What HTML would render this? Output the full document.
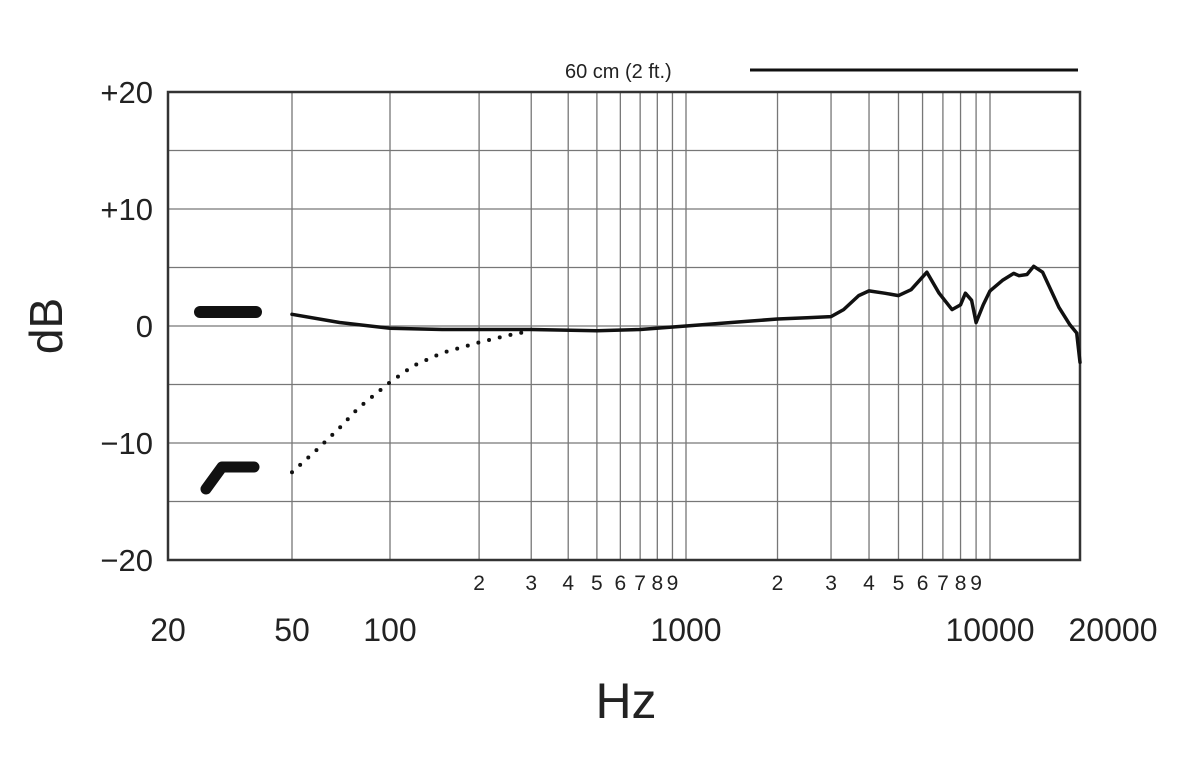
<!DOCTYPE html>
<html><head><meta charset="utf-8"><style>
body{margin:0;background:#fff;}
svg{display:block;font-family:"Liberation Sans",sans-serif;}
</style></head><body>
<svg id="chart" width="1200" height="757" viewBox="0 0 1200 757" xmlns="http://www.w3.org/2000/svg">
<g id="grid"></g>
<g id="series"></g>
<g id="labels"></g>
<text x="565" y="78" font-size="20" fill="#222">60 cm (2 ft.)</text>
<line x1="750" y1="70" x2="1078" y2="70" stroke="#111" stroke-width="3"/>
<line x1="200" y1="312" x2="256" y2="312" stroke="#111" stroke-width="12" stroke-linecap="round"/>
<polyline points="206,489 222,467 254,467" fill="none" stroke="#111" stroke-width="11" stroke-linecap="round" stroke-linejoin="round"/>
<text transform="translate(62,326) rotate(-90)" text-anchor="middle" font-size="46" fill="#222">dB</text>
<text x="626" y="718" text-anchor="middle" font-size="50" fill="#222">Hz</text>
</svg>
<script>
const yTicks=[20,10,0,-10,-20];
const yTickLabels=["+20","+10","0","\u221210","\u221220"];
const xMajorTicks=[20,50,100,1000,10000,20000];
const xMajorLabels=["20","50","100","1000","10000","20000"];
const minorDigits=[2,3,4,5,6,7,8,9];
const flatFreq=[50,70,100,150,200,300,500,700,1000,1500,2000,2500,3000,3300,3700,4000,4500,5000,5500,6200,6800,7500,8000,8300,8700,9000,9500,10000,11000,12000,12500,13300,14000,15000,17000,18500,19500,20000];
const flatDb=[1.0,0.3,-0.2,-0.3,-0.3,-0.3,-0.4,-0.3,0,0.35,0.6,0.7,0.8,1.4,2.6,3.0,2.8,2.6,3.1,4.6,2.8,1.4,1.8,2.8,2.2,0.3,1.8,3.0,3.9,4.5,4.3,4.4,5.1,4.6,1.6,0.1,-0.6,-3.1];
const rollFreq=[50,60,70,80,100,120,150,200,250,300];
const rollDb=[-12.5,-10.5,-8.7,-7.0,-4.8,-3.4,-2.3,-1.4,-0.8,-0.4];
const NS="http://www.w3.org/2000/svg";
const ax=[[20,168],[50,292],[100,390],[1000,686],[10000,990],[20000,1080]];
function xs(f){for(let i=0;i<ax.length-1;i++){const a=ax[i],b=ax[i+1];if(f<=b[0]||i==ax.length-2){return a[1]+(Math.log10(f)-Math.log10(a[0]))/(Math.log10(b[0])-Math.log10(a[0]))*(b[1]-a[1]);}}}
function ys(d){return 326-d*11.7;}
function mk(tag,attrs,parent){const e=document.createElementNS(NS,tag);for(const k in attrs)e.setAttribute(k,attrs[k]);parent.appendChild(e);return e;}
const grid=document.getElementById('grid'),series=document.getElementById('series'),labels=document.getElementById('labels');
for(let d=-20;d<=20;d+=5){const l=mk('line',{x1:168,x2:1080,y1:ys(d),y2:ys(d),stroke:'#777','stroke-width':1.3},grid);

}
const vf=[50,100,200,300,400,500,600,700,800,900,1000,2000,3000,4000,5000,6000,7000,8000,9000,10000];
vf.forEach(f=>{const l=mk('line',{x1:xs(f),x2:xs(f),y1:92,y2:560,stroke:'#777','stroke-width':1.3},grid);

});
const fr=mk('rect',{x:168,y:92,width:912,height:468,fill:'none',stroke:'#333','stroke-width':2.5},grid);


yTicks.forEach((v,i)=>{const t=mk('text',{x:153,y:ys(v)+11,'text-anchor':'end','font-size':31,fill:'#222'},labels);t.textContent=yTickLabels[i];

});
xMajorTicks.forEach((v,i)=>{const t=mk('text',{x:v==20000?1113:xs(v),y:641,'text-anchor':'middle','font-size':32,fill:'#222'},labels);t.textContent=xMajorLabels[i];

});
[100,1000].forEach(base=>{minorDigits.forEach(d=>{const t=mk('text',{x:xs(base*d),y:590,'text-anchor':'middle','font-size':21,fill:'#222'},labels);t.textContent=String(d);

});});
function path(fs,ds){let s='';fs.forEach((f,i)=>{s+=(i?'L':'M')+xs(f).toFixed(1)+','+ys(ds[i]).toFixed(1);});return s;}
const p1=mk('path',{d:path(flatFreq,flatDb),fill:'none',stroke:'#111','stroke-width':3.5,'stroke-linejoin':'round','stroke-linecap':'round'},series);


const p2=mk('path',{d:path(rollFreq,rollDb),fill:'none',stroke:'#111','stroke-width':4,'stroke-dasharray':'0 11','stroke-linecap':'round'},series);


</script>
</body></html>
